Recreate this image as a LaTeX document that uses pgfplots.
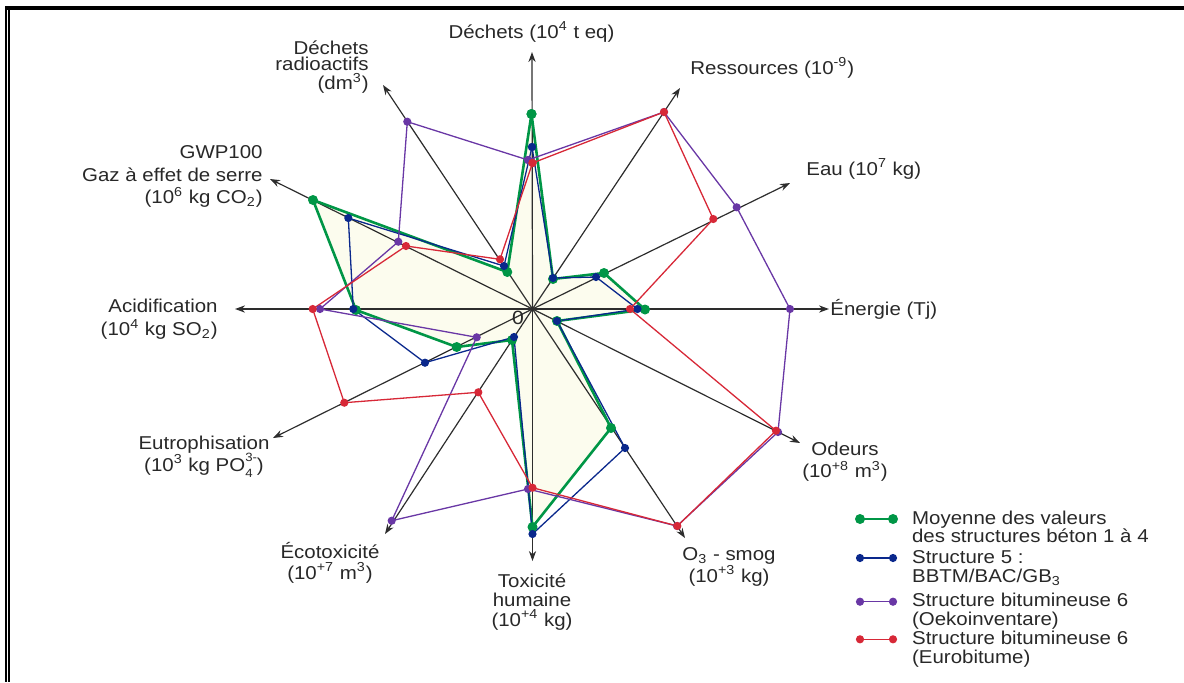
\documentclass[border=0pt]{standalone}
\usepackage{fontspec}
\setmainfont{Liberation Sans}[FakeStretch=1.1]
\usepackage{pgfplots}
\pgfplotsset{compat=1.18}
\usetikzlibrary{arrows.meta}

\definecolor{cgreen}{RGB}{0,150,70}
\definecolor{cblue}{RGB}{10,40,140}
\definecolor{cpurple}{RGB}{105,55,165}
\definecolor{cred}{RGB}{215,40,55}
\definecolor{cfill}{RGB}{252,252,238}
\definecolor{ctext}{RGB}{40,40,40}
\definecolor{caxis}{RGB}{45,45,45}

\newcommand{\stackss}[2]{\makebox[0pt][l]{\raisebox{-0.34em}{\fontsize{6}{6}\selectfont #1}}\raisebox{0.52em}{\fontsize{6}{6}\selectfont #2}}

\begin{document}
\begin{tikzpicture}[every node/.style={inner sep=0pt, text=ctext}]
\begin{axis}[name=ax, x=0.5pt, y=0.5pt, y dir=reverse,
  xmin=0, xmax=1184, ymin=0, ymax=682, hide axis, clip=false]

% frame
\fill[black] (axis cs:5,6) rectangle (axis cs:1184,10);
\fill[black] (axis cs:5,6) rectangle (axis cs:6.8,682);
\fill[black] (axis cs:8,10) rectangle (axis cs:10.4,682);

% fill of green polygon
\addplot[fill=cfill, draw=none, forget plot] coordinates {
(531.5,114) (553,279) (604,273) (645,309.5) (557,321) (611,428)
(532.5,527) (512,340) (456.7,347) (356,310) (313,200) (507.3,272)} -- cycle;

% axes
\begin{scope}[caxis, line width=0.6pt, -{Stealth[length=5pt,width=3.6pt]}]
\draw (axis cs:532.5,309) -- (axis cs:532,52);
\draw (axis cs:532.5,309) -- (axis cs:680,88);
\draw (axis cs:532.5,309) -- (axis cs:790,183);
\draw (axis cs:532.5,309) -- (axis cs:829,309);
\draw (axis cs:532.5,309) -- (axis cs:800,443);
\draw (axis cs:532.5,309) -- (axis cs:685,538);
\draw (axis cs:532.5,309) -- (axis cs:532.5,561);
\draw (axis cs:532.5,309) -- (axis cs:385,534);
\draw (axis cs:532.5,309) -- (axis cs:273,438);
\draw (axis cs:532.5,309) -- (axis cs:235,309);
\draw (axis cs:532.5,309) -- (axis cs:270,179);
\draw (axis cs:532.5,309) -- (axis cs:383,85);
\end{scope}

% Moyenne beton 1-4
\addplot[cgreen, line width=1.3pt, mark=*, mark size=1.8pt] coordinates {
(531.5,114) (553,279) (604,273) (645,309.5) (557,321) (611,428)
(532.5,527) (512,340) (456.7,347) (356,310) (313,200) (507.3,272) (531.5,114)};
% Structure 5
\addplot[cblue, line width=0.65pt, mark=*, mark size=1.7pt] coordinates {
(532,147) (553,278) (596,277) (637.5,309) (557,321) (625,448)
(532.5,534) (514,337) (425,362.7) (353.3,309) (348.3,218) (504,266) (532,147)};
% Oekoinventare
\addplot[cpurple, line width=0.65pt, mark=*, mark size=1.7pt] coordinates {
(528,160) (664,112) (736.7,207.3) (790,309) (778,432) (677,526)
(528,489) (391.7,520.7) (476.7,337.3) (320,309) (398.3,241.7) (407.3,121.7) (528,160)};
% Eurobitume
\addplot[cred, line width=0.65pt, mark=*, mark size=1.7pt] coordinates {
(532.5,163) (664,112) (713.3,219) (630,309) (776,430.7) (677.3,526)
(532.5,487.7) (478.3,392.3) (344.3,402.7) (312.7,309) (406,246) (500,259.3) (532.5,163)};

% axis labels
\node[font=\fontsize{9.3}{11}\selectfont] at (axis cs:531.5,32) {Déchets (10\textsuperscript{4} t eq)};
\node[font=\fontsize{9.3}{11}\selectfont, anchor=west] at (axis cs:690,68) {Ressources (10\textsuperscript{-9})};
\node[font=\fontsize{9.3}{11}\selectfont, anchor=west] at (axis cs:806,169) {Eau (10\textsuperscript{7} kg)};
\node[font=\fontsize{9.3}{11}\selectfont, anchor=west] at (axis cs:830,309) {Énergie (Tj)};
\node[font=\fontsize{9.3}{11}\selectfont, align=center] at (axis cs:845,462) {Odeurs\\(10\textsuperscript{+8} m\textsuperscript{3})};
\node[font=\fontsize{9.3}{11}\selectfont, align=center] at (axis cs:729,567) {O\textsubscript{3} - smog\\(10\textsuperscript{+3} kg)};
\node[font=\fontsize{9.3}{9.6}\selectfont, align=center] at (axis cs:532,602) {Toxicité\\humaine\\(10\textsuperscript{+4} kg)};
\node[font=\fontsize{9.3}{10.5}\selectfont, align=center] at (axis cs:330,562.5) {Écotoxicité\\(10\textsuperscript{+7} m\textsuperscript{3})};
\node[font=\fontsize{9.3}{11}\selectfont, align=center] at (axis cs:204,457) {Eutrophisation\\(10\textsuperscript{3} kg PO\stackss{4}{3-})};
\node[font=\fontsize{9.3}{11.5}\selectfont, align=right, anchor=east] at (axis cs:218,319.5) {Acidification\\(10\textsuperscript{4} kg SO\textsubscript{2})};
\node[font=\fontsize{9.3}{11.3}\selectfont, align=right, anchor=east] at (axis cs:263,176.5) {GWP100\\Gaz à effet de serre\\(10\textsuperscript{6} kg CO\textsubscript{2})};
\node[font=\fontsize{9.3}{8}\selectfont, align=right, anchor=east] at (axis cs:369,67.5) {Déchets\\radioactifs\\(dm\textsuperscript{3})};
\node[font=\fontsize{9.6}{11}\selectfont] at (axis cs:518,317.5) {0};

% legend
\addplot[cgreen, line width=1.3pt, mark=*, mark size=1.8pt, forget plot] coordinates {(860,519) (893,519)};
\addplot[cblue, line width=0.65pt, mark=*, mark size=1.7pt, forget plot] coordinates {(860,558) (893,558)};
\addplot[cpurple, line width=0.65pt, mark=*, mark size=1.7pt, forget plot] coordinates {(860,601.7) (893,601.7)};
\addplot[cred, line width=0.65pt, mark=*, mark size=1.7pt, forget plot] coordinates {(860,639.3) (893,639.3)};
\begin{scope}[every node/.append style={anchor=base west, font=\fontsize{9.3}{11}\selectfont}]
\node at (axis cs:911.7,524) {Moyenne des valeurs};
\node at (axis cs:911.7,542) {des structures béton 1 à 4};
\node at (axis cs:911.7,563.3) {Structure 5 :};
\node at (axis cs:911.7,582.7) {BBTM/BAC/GB\textsubscript{3}};
\node at (axis cs:911.7,606) {Structure bitumineuse 6};
\node at (axis cs:911.7,625) {(Oekoinventare)};
\node at (axis cs:911.7,644) {Structure bitumineuse 6};
\node at (axis cs:911.7,663.3) {(Eurobitume)};
\end{scope}
\end{axis}
\pgfresetboundingbox
\path[use as bounding box] (ax.south west) rectangle (ax.north east);
\end{tikzpicture}
\end{document}
